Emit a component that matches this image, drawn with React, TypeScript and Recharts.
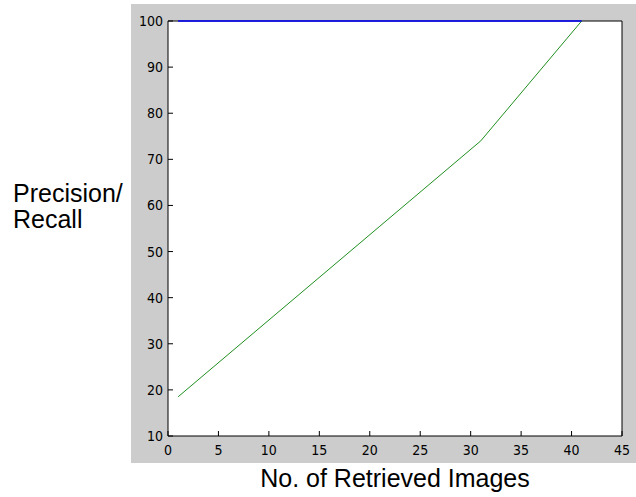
import React from 'react';
import { LineChart, Line, XAxis, YAxis, CartesianGrid, Label } from 'recharts';

const xTicks = [0, 5, 10, 15, 20, 25, 30, 35, 40, 45];
const yTicks = [10, 20, 30, 40, 50, 60, 70, 80, 90, 100];

const precision = [
  { x: 1, v: 100 },
  { x: 41, v: 100 },
];

const recall = [
  { x: 1, v: 18.5 },
  { x: 11, v: 37 },
  { x: 21, v: 55.5 },
  { x: 31, v: 74 },
  { x: 36, v: 87 },
  { x: 41, v: 100 },
];

const tickFont = "'Liberation Sans Narrow', 'Arial Narrow', 'DejaVu Sans Condensed', sans-serif";
const labelFont = "'Liberation Sans', Arial, sans-serif";

const YTitle = () => (
  <g>
    <text x={13} y={202} fill="#000" fontSize={25} fontFamily={labelFont}>Precision/</text>
    <text x={13} y={228} fill="#000" fontSize={25} fontFamily={labelFont}>Recall</text>
  </g>
);

export default function App() {
  return (
    <div style={{ position: 'absolute', left: 0, top: 0, width: 636, height: 497, background: '#fff' }}>
      <div style={{ position: 'absolute', left: 131, top: 4, width: 505, height: 459, background: '#cccccc' }} />
      <div style={{ position: 'absolute', left: 0, top: 0 }}>
        <LineChart width={636} height={497} margin={{ top: 20, right: 13, bottom: 11, left: 128 }}>
          <CartesianGrid
            xAxisId="b"
            yAxisId="l"
            vertical={false}
            horizontal
            horizontalValues={[100]}
            fill="#ffffff"
            stroke="#000"
          />
          <XAxis
            xAxisId="b"
            type="number"
            dataKey="x"
            domain={[0, 45]}
            ticks={xTicks}
            height={50}
            axisLine={{ stroke: '#000' }}
            tickLine={{ stroke: '#000' }}
            tickSize={-5}
            tickMargin={14}
            tick={{ fill: '#000', fontSize: 14, fontFamily: tickFont }}
          >
            <Label
              value="No. of Retrieved Images"
              position="insideBottom"
              offset={-1}
              style={{ fill: '#000', fontSize: 25, fontFamily: labelFont }}
            />
          </XAxis>
          <XAxis
            xAxisId="t"
            orientation="top"
            type="number"
            dataKey="x"
            domain={[0, 45]}
            ticks={xTicks}
            height={1}
            axisLine={false}
            tickLine={{ stroke: '#000' }}
            tickSize={-5}
            tick={false}
          />
          <YAxis
            yAxisId="l"
            type="number"
            domain={[10, 100]}
            ticks={yTicks}
            width={40}
            axisLine={{ stroke: '#000' }}
            tickLine={{ stroke: '#000' }}
            tickSize={-5}
            tickMargin={10}
            tick={{ fill: '#000', fontSize: 14, fontFamily: tickFont }}
          >
            <Label content={<YTitle />} />
          </YAxis>
          <YAxis
            yAxisId="r"
            orientation="right"
            type="number"
            domain={[10, 100]}
            ticks={yTicks}
            width={1}
            axisLine={{ stroke: '#000' }}
            tickLine={{ stroke: '#000' }}
            tickSize={-5}
            tick={false}
          />
          <Line
            xAxisId="b"
            yAxisId="l"
            data={recall}
            dataKey="v"
            type="linear"
            stroke="#1f8f1f"
            strokeWidth={1}
            dot={false}
            isAnimationActive={false}
          />
          <Line
            xAxisId="b"
            yAxisId="l"
            data={precision}
            dataKey="v"
            type="linear"
            stroke="#0000ff"
            strokeWidth={1.5}
            dot={false}
            isAnimationActive={false}
          />
        </LineChart>
      </div>
    </div>
  );
}
